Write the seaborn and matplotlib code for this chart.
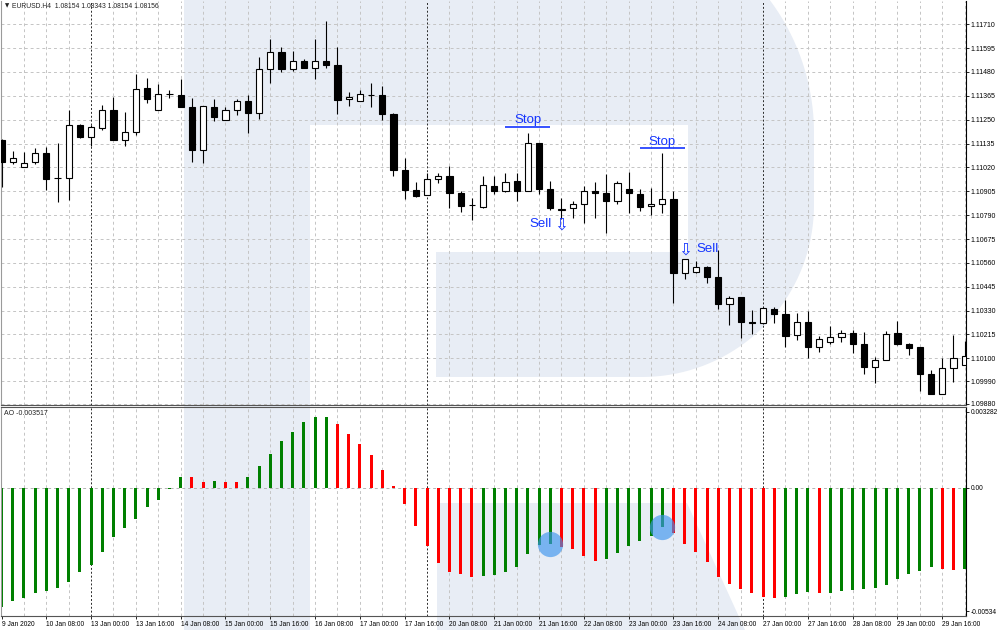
import numpy as np
import pandas as pd
import matplotlib.pyplot as plt
from matplotlib.patches import Polygon
import seaborn as sns

# EURUSD H4 candles, 9 Jan 2020 16:00 .. 30 Jan 2020 00:00
opens = [1.11152, 1.11048, 1.11024, 1.11045, 1.11091, 1.10971, 1.10969, 1.11225, 1.11168, 1.11212,
         1.11297, 1.11152, 1.11189, 1.11402, 1.11297, 1.11373, 1.11368, 1.11313, 1.11104, 1.11313,
         1.11249, 1.11297, 1.11342, 1.11281, 1.11493, 1.11574, 1.11493, 1.11535, 1.11498, 1.11532,
         1.11514, 1.11349, 1.11340, 1.11368, 1.11369, 1.11276, 1.11006, 1.10913, 1.10887, 1.10963,
         1.10980, 1.10895, 1.10838, 1.10831, 1.10930, 1.10905, 1.10955, 1.10905, 1.11136, 1.10918,
         1.10813, 1.10823, 1.10844, 1.10908, 1.10898, 1.10858, 1.10915, 1.10892, 1.10834, 1.10844,
         1.10868, 1.10511, 1.10518, 1.10542, 1.10490, 1.10362, 1.10394, 1.10273, 1.10269, 1.10338,
         1.10312, 1.10212, 1.10274, 1.10156, 1.10177, 1.10204, 1.10221, 1.10169, 1.10060, 1.10092,
         1.10224, 1.10168, 1.10153, 1.10024, 1.09928, 1.10052, 1.10068]
highs = [1.11155, 1.11101, 1.11093, 1.11112, 1.11117, 1.11136, 1.11297, 1.11229, 1.11223, 1.11321,
         1.11361, 1.11287, 1.11470, 1.11450, 1.11422, 1.11393, 1.11445, 1.11353, 1.11317, 1.11350,
         1.11313, 1.11348, 1.11369, 1.11550, 1.11638, 1.11600, 1.11582, 1.11543, 1.11638, 1.11726,
         1.11602, 1.11382, 1.11393, 1.11426, 1.11414, 1.11284, 1.11064, 1.10948, 1.10995, 1.10992,
         1.11027, 1.10908, 1.10874, 1.10980, 1.10979, 1.10993, 1.10993, 1.11184, 1.11138, 1.10955,
         1.10871, 1.10858, 1.10931, 1.10948, 1.10987, 1.10955, 1.11000, 1.10915, 1.10922, 1.11088,
         1.10906, 1.10578, 1.10569, 1.10543, 1.10622, 1.10399, 1.10395, 1.10333, 1.10346, 1.10346,
         1.10381, 1.10317, 1.10328, 1.10209, 1.10256, 1.10237, 1.10237, 1.10225, 1.10108, 1.10232,
         1.10280, 1.10172, 1.10156, 1.10044, 1.10103, 1.10212, 1.10184]
lows = [1.10927, 1.11037, 1.11020, 1.11035, 1.10911, 1.10852, 1.10865, 1.11163, 1.11123, 1.11201,
        1.11150, 1.11125, 1.11176, 1.11329, 1.11295, 1.11353, 1.11311, 1.11048, 1.11043, 1.11245,
        1.11247, 1.11273, 1.11185, 1.11253, 1.11429, 1.11482, 1.11487, 1.11497, 1.11445, 1.11501,
        1.11279, 1.11316, 1.11338, 1.11310, 1.11249, 1.10980, 1.10866, 1.10879, 1.10885, 1.10944,
        1.10823, 1.10807, 1.10767, 1.10823, 1.10892, 1.10902, 1.10857, 1.10904, 1.10890, 1.10813,
        1.10772, 1.10775, 1.10751, 1.10775, 1.10703, 1.10842, 1.10799, 1.10810, 1.10791, 1.10802,
        1.10365, 1.10482, 1.10510, 1.10464, 1.10338, 1.10262, 1.10199, 1.10217, 1.10267, 1.10269,
        1.10153, 1.10188, 1.10100, 1.10132, 1.10168, 1.10180, 1.10127, 1.10024, 1.09980, 1.10090,
        1.10164, 1.10116, 1.09944, 1.09926, 1.09926, 1.09987, 1.10066]
closes = [1.11048, 1.11064, 1.11043, 1.11091, 1.10964, 1.10968, 1.11225, 1.11165, 1.11215, 1.11297,
          1.11152, 1.11189, 1.11397, 1.11350, 1.11373, 1.11373, 1.11313, 1.11104, 1.11315, 1.11262,
          1.11297, 1.11342, 1.11281, 1.11493, 1.11574, 1.11494, 1.11535, 1.11498, 1.11532, 1.11515,
          1.11347, 1.11360, 1.11373, 1.11367, 1.11276, 1.11006, 1.10911, 1.10884, 1.10963, 1.10979,
          1.10898, 1.10836, 1.10837, 1.10935, 1.10905, 1.10951, 1.10905, 1.11136, 1.10918, 1.10823,
          1.10820, 1.10844, 1.10908, 1.10898, 1.10858, 1.10946, 1.10895, 1.10831, 1.10844, 1.10868,
          1.10511, 1.10577, 1.10542, 1.10490, 1.10362, 1.10389, 1.10274, 1.10272, 1.10341, 1.10312,
          1.10209, 1.10274, 1.10156, 1.10192, 1.10204, 1.10221, 1.10169, 1.10060, 1.10092, 1.10216,
          1.10169, 1.10151, 1.10024, 1.09928, 1.10052, 1.10103, 1.10113]

# Awesome Oscillator
ao_values = [-0.005175, -0.004916, -0.004787, -0.004571, -0.004458, -0.004329, -0.004095, -0.003663, -0.003335, -0.002786,
             -0.002125, -0.001737, -0.001361, -0.000855, -0.000527, -0.000065, 0.000467, 0.000441, 0.000238, 0.000281,
             0.000251, 0.000242, 0.000467, 0.000929, 0.001447, 0.001996, 0.002411, 0.002830, 0.003046, 0.003054,
             0.002743, 0.002298, 0.001879, 0.001417, 0.000756, 0.000065, -0.000726, -0.001650, -0.002527, -0.003275,
             -0.003637, -0.003750, -0.003879, -0.003810, -0.003780, -0.003663, -0.003421, -0.002860, -0.002497, -0.002441,
             -0.002557, -0.002644, -0.002946, -0.003162, -0.003102, -0.002830, -0.002514, -0.002298, -0.002082, -0.001693,
             -0.001953, -0.002428, -0.002786, -0.003205, -0.003866, -0.004182, -0.004372, -0.004571, -0.004717, -0.004787,
             -0.004717, -0.004601, -0.004514, -0.004571, -0.004545, -0.004484, -0.004428, -0.004372, -0.004329, -0.004212,
             -0.003966, -0.003750, -0.003607, -0.003447, -0.003508, -0.003551, -0.003517]

price_ticks = [1.11710, 1.11595, 1.11480, 1.11365, 1.11250, 1.11135, 1.11020, 1.10905, 1.10790,
               1.10675, 1.10560, 1.10445, 1.10330, 1.10215, 1.10100, 1.09990, 1.09880]
ao_ticks = [0.003282, 0.0, -0.00534]
ao_tick_labels = ['0.003282', '0.00', '-0.00534']
date_labels = ['9 Jan 2020', '10 Jan 08:00', '13 Jan 00:00', '13 Jan 16:00', '14 Jan 08:00',
               '15 Jan 00:00', '15 Jan 16:00', '16 Jan 08:00', '17 Jan 00:00', '17 Jan 16:00',
               '20 Jan 08:00', '21 Jan 00:00', '21 Jan 16:00', '22 Jan 08:00', '23 Jan 00:00',
               '23 Jan 16:00', '24 Jan 08:00', '27 Jan 00:00', '27 Jan 16:00', '28 Jan 08:00',
               '29 Jan 00:00', '29 Jan 16:00']
week_starts = [8, 38, 68]

# trade marks drawn on the chart
stop_bars = [(45, 49), (57, 61)]
stop_levels = [1.11215, 1.11112]
sell_bars = [50, 61]
sell_levels = [1.10745, 1.10626]
signal_bars = [49, 59]

header = 'EURUSD.H4  1.08154 1.08343 1.08154 1.08156'
ao_label = 'AO -0.003517'

sns.set_theme(style='white')
plt.rcParams['font.family'] = ['Liberation Sans', 'DejaVu Sans']
plt.rcParams['axes.linewidth'] = 0.8

n = len(opens)
df = pd.DataFrame({'bar': np.arange(n), 'open': opens, 'high': highs, 'low': lows,
                   'close': closes, 'ao': ao_values})
df['bull'] = df['close'] > df['open']
df['trend'] = np.where(df['ao'].diff().fillna(1) > 0, 'up', 'down')

W, H = 999, 630
fig = plt.figure(figsize=(W / 100, H / 100), dpi=100)
fig.patch.set_facecolor('white')

# broker logo watermark behind the panes (pixel space)
bg = fig.add_axes([0, 0, 1, 1])
bg.set_xlim(0, W)
bg.set_ylim(H, 0)
bg.axis('off')
logo = '#e8edf5'
t1 = np.linspace(np.arctan2(-133, 177.7), 0, 40)
t2 = np.linspace(0, np.pi / 2, 40)
bowl = ([(310, 0), (769.7, 0)]
        + list(zip(592 + 222 * np.cos(t1), 133 + 222 * np.sin(t1)))
        + list(zip(642 + 172 * np.cos(t2), 205 + 172 * np.sin(t2)))
        + [(436, 377), (436, 252), (688, 252), (688, 125), (310, 125)])
stem = [(184, 0), (310, 0), (310, H), (184, H)]
leg = [(437, 503), (687, 503), (745, H), (437, H)]
for pts in [bowl, stem, leg]:
    bg.add_patch(Polygon(pts, closed=True, facecolor=logo, edgecolor='none'))

ax = fig.add_axes([1 / W, 1 - 405 / H, 965 / W, 404 / H])
ax2 = fig.add_axes([1 / W, 1 - 616 / H, 965 / W, 209 / H])

# AO histogram
sns.barplot(data=df, x='bar', y='ao', hue='trend', palette={'up': '#008000', 'down': '#ff0000'},
            dodge=False, width=0.26, saturation=1, errorbar=None, legend=False,
            linewidth=0, ax=ax2, zorder=2)
ax2.scatter(signal_bars, df.loc[signal_bars, 'ao'], s=330, color='#3d95ee', alpha=0.65,
            linewidths=0, zorder=5)

for a in (ax, ax2):
    a.set_facecolor('none')
    a.set_xlim(-0.045, 86.12)
    a.set_xlabel('')
    a.set_ylabel('')
    for b in range(2, n, 2):
        if b not in week_starts:
            a.axvline(b, color='#c4c4c4', lw=0.7, ls=(0, (3, 3)), zorder=0.5)
    for b in week_starts:
        a.axvline(b, color='#2a2a2a', lw=0.7, ls=(0, (2, 2)), zorder=0.6)
    a.yaxis.tick_right()
    a.tick_params(axis='y', right=True, left=False, labelright=True, labelleft=False,
                  length=2.2, width=0.6, pad=0.9, labelsize=5.0, colors='black')
    a.spines['left'].set_color('#9a9a9a')
    a.spines['right'].set_color('black')

# candles
for p in price_ticks:
    ax.axhline(p, color='#c4c4c4', lw=0.7, ls=(0, (3, 3)), zorder=0.5)
ax.vlines(df['bar'], df['low'], df['high'], color='black', lw=0.8, zorder=2)
body_low = df[['open', 'close']].min(axis=1)
body_h = (df['close'] - df['open']).abs().clip(lower=0.000004)
ax.bar(df['bar'], body_h, bottom=body_low, width=0.56,
       color=np.where(df['bull'], 'white', 'black'), edgecolor='black', linewidth=0.8, zorder=3)

ax.set_ylim(1.09875, 1.11822)
ax.set_yticks(price_ticks)
ax.set_yticklabels(['%.5f' % p for p in price_ticks])
ax.tick_params(axis='x', bottom=False, labelbottom=False)
ax.spines['top'].set_visible(False)
ax.spines['bottom'].set_color('#555555')

blue = '#1434ff'
for (b0, b1), lvl in zip(stop_bars, stop_levels):
    ax.hlines(lvl, b0, b1, color=blue, lw=1.2, zorder=4)
    ax.annotate('Stop', xy=((b0 + b1) / 2, lvl), xytext=(0, 2.5), textcoords='offset points',
                ha='center', va='baseline', fontsize=9.5, color=blue)
for b, lvl in zip(sell_bars, sell_levels):
    ax.text(b, lvl, '\u21e9', ha='center', va='center', fontsize=12, color=blue,
            family='DejaVu Sans', zorder=4)
ax.annotate('Sell', xy=(sell_bars[0], sell_levels[0]), xytext=(-7.4, 0), textcoords='offset points',
            ha='right', va='center', fontsize=9.5, color=blue)
ax.annotate('Sell', xy=(sell_bars[1], sell_levels[1]), xytext=(8.6, 0), textcoords='offset points',
            ha='left', va='center', fontsize=9.5, color=blue)

# oscillator pane
ax2.axhline(0, color='#b4b4b4', lw=0.7, ls=(0, (3, 3)), zorder=0.5)
ax2.set_ylim(-0.005551, 0.003478)
ax2.set_yticks(ao_ticks)
ax2.set_yticklabels(ao_tick_labels)
ax2.tick_params(axis='y', labelsize=4.8)
ax2.set_xticks(range(0, n, 4))
ax2.set_xticklabels(date_labels, ha='left')
ax2.tick_params(axis='x', bottom=True, length=2.5, width=0.6, pad=1, labelsize=4.8, colors='black')
ax2.spines['top'].set_color('#555555')
ax2.spines['bottom'].set_color('#555555')

fig.text(4.5 / W, 1 - 6 / H, '\u25bc', fontsize=4, va='center', ha='left', color='#222222',
         family='DejaVu Sans')
fig.text(12 / W, 1 - 6 / H, header, fontsize=4.9, va='center', ha='left', color='#222222')
fig.text(4 / W, 1 - 413.7 / H, ao_label, fontsize=5.0, va='center', ha='left', color='#222222')

plt.savefig('out.png', dpi=100)
